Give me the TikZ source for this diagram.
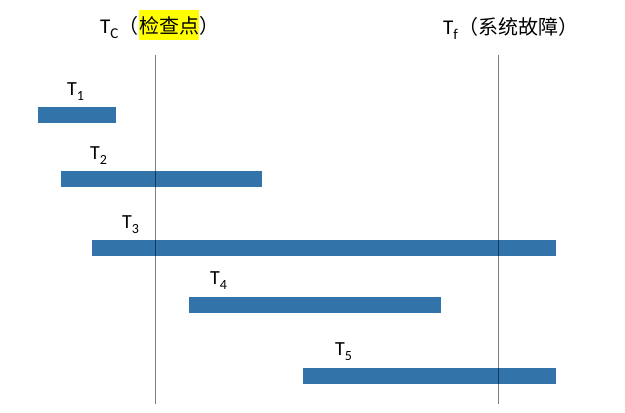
\documentclass[tikz,border=0pt]{standalone}
\usepackage{fontspec}
\setmainfont{Carlito}
\newfontfamily\cjk{Noto Sans CJK SC}
\usetikzlibrary{positioning}
\definecolor{barblue}{RGB}{50,116,170}
\definecolor{hlyellow}{RGB}{255,255,0}
\newcommand{\tsub}[1]{\raisebox{-5pt}{\fontsize{14}{14}\selectfont #1}}
\newcommand{\hsub}[1]{\raisebox{-5pt}{\fontsize{15}{15}\selectfont #1}}

\begin{document}
\begin{tikzpicture}[x=1pt, y=-1pt,
    taskbar/.style={fill=barblue, draw=none, inner sep=0pt, minimum height=16pt, anchor=north west},
    tasklabel/.style={inner sep=0pt, anchor=base west, font=\fontsize{20}{20}\selectfont},
    headtext/.style={inner sep=0pt, anchor=base west, font=\fontsize{21}{21}\selectfont},
    headcjk/.style={inner sep=0pt, anchor=base west, font=\cjk\fontsize{20}{20}\selectfont},
    timeline/.style={black, opacity=0.5, line width=0.9pt}]
    \useasboundingbox (0,0) rectangle (625,413);

    % Bars
    \node[taskbar, minimum width=78pt]  (bar1) at (38,107) {};
    \node[taskbar, minimum width=201pt] (bar2) at (61,171) {};
    \node[taskbar, minimum width=464pt] (bar3) at (92,240) {};
    \node[taskbar, minimum width=252pt] (bar4) at (189,297) {};
    \node[taskbar, minimum width=253pt] (bar5) at (303,368) {};

    % Labels
    \node[tasklabel] (lab1) at (67,95)  {T\tsub{1}};
    \node[tasklabel] (lab2) at (90,159) {T\tsub{2}};
    \node[tasklabel] (lab3) at (122,228) {T\tsub{3}};
    \node[tasklabel] (lab4) at (210,284) {T\tsub{4}};
    \node[tasklabel] (lab5) at (335,355) {T\tsub{5}};

    % Time lines
    \coordinate (tctop) at (155,55);
    \coordinate (tcbot) at (155,404);
    \coordinate (tftop) at (498,55);
    \coordinate (tfbot) at (498,404);
    \draw[timeline] (tctop) -- (tcbot);
    \draw[timeline] (tftop) -- (tfbot);

    % Headers
    \node[headtext] (tc) at (100,33) {T\hsub{C}};
    \node[headcjk] (tcopen) at (tc.base east) {（};
    \node[headcjk, fill=hlyellow, text height=17.6pt, text depth=2.4pt, inner ysep=5pt, anchor=base west] (tchl) at (tcopen.base east) {检查点};
    \node[headcjk] (tcclose) at (tchl.base east) {）};

    \node[headtext] (tf) at (443,34) {T\hsub{f}};
    \node[headcjk] (tftext) at (tf.base east) {（系统故障）};
\end{tikzpicture}
\end{document}
